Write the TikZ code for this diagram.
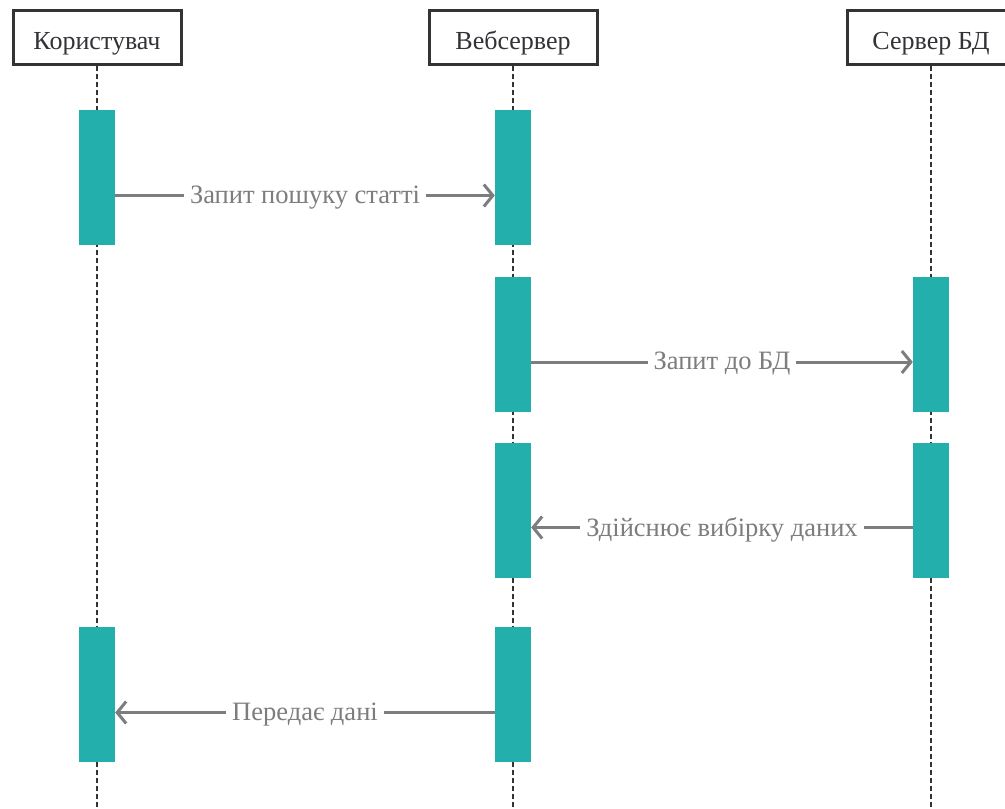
\documentclass[tikz,border=0pt]{standalone}
\usepackage{fontspec}
\setmainfont{Liberation Serif}
\usetikzlibrary{arrows.meta}
\definecolor{bar}{RGB}{35,176,172}
\definecolor{msg}{RGB}{125,125,125}
\definecolor{ink}{RGB}{50,50,55}

\begin{document}
\begin{tikzpicture}[x=1pt,y=-1pt,
  actor/.style = {draw=ink,line width=3pt,fill=white,minimum width=168pt,minimum height=54pt,
                  font=\fontsize{26}{30}\selectfont,text=ink,inner sep=0pt,text height=28pt,text depth=3pt},
  life/.style = {draw=ink,line width=2.6pt,dash pattern=on 5pt off 3pt},
  act/.style = {fill=bar,minimum width=36pt,minimum height=135pt,inner sep=0pt},
  call/.style = {draw=msg,line width=3pt,-{Straight Barb[length=9pt,width=22pt,line width=3pt]}},
  lbl/.style = {fill=white,text=msg,font=\fontsize{26.5}{30}\selectfont,inner sep=6pt,yshift=-2pt}]
\useasboundingbox (0,0) rectangle (1005,809);
\clip (0,0) rectangle (1005,809);

\node[actor] (user) at (97,37)  {Користувач};
\node[actor] (web)  at (513,37) {Вебсервер};
\node[actor] (db)   at (931,37) {Сервер БД};

\coordinate (user end) at (97,809);
\coordinate (web end)  at (513,809);
\coordinate (db end)   at (931,809);

\draw[life] (user) -- (user end);
\draw[life] (web) -- (web end);
\draw[life] (db) -- (db end);

\node[act] (u1) at (97,177.5)  {};
\node[act] (u2) at (97,694.5)  {};
\node[act] (w1) at (513,177.5) {};
\node[act] (w2) at (513,344)   {};
\node[act] (w3) at (513,510.5) {};
\node[act] (w4) at (513,694.5) {};
\node[act] (d1) at (931,344)   {};
\node[act] (d2) at (931,510.5) {};

\draw[call] ([yshift=-18pt]u1.east) -- node[lbl] {Запит пошуку статті} ([yshift=-18pt]w1.west);
\draw[call] ([yshift=-18pt]w2.east) -- node[lbl] {Запит до БД} ([yshift=-18pt]d1.west);
\draw[call] ([yshift=-17pt]d2.west) -- node[lbl] {Здійснює вибірку даних} ([yshift=-17pt]w3.east);
\draw[call] ([yshift=-18pt]w4.west) -- node[lbl] {Передає дані} ([yshift=-18pt]u2.east);
\end{tikzpicture}
\end{document}
